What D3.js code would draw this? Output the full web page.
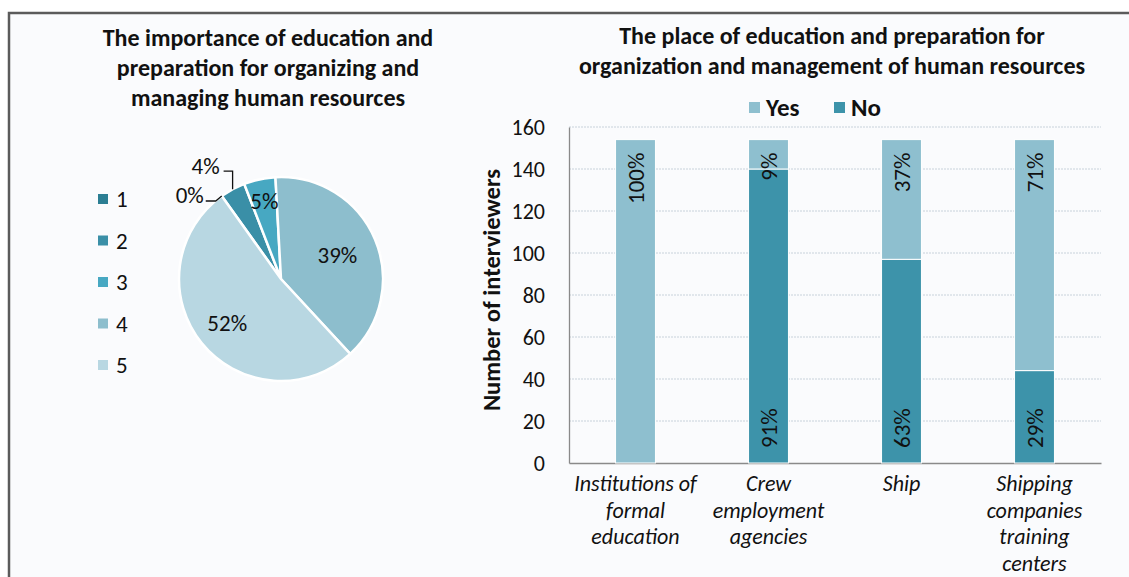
<!DOCTYPE html>
<html>
<head>
<meta charset="utf-8">
<script src="https://cdn.jsdelivr.net/npm/d3@7"></script>
<style>
  body { margin: 0; background: #fff; }
  svg { display: block; font-family: Carlito, Lato, "Open Sans", sans-serif; }
</style>
</head>
<body>
<svg id="chart"></svg>
<script>
// pie data
let pieLabels = ['1', '2', '3', '4', '5']
let pieValues = [0, 4, 5, 39, 52]
let pieColors = ['#2b7e93', '#3a8fa7', '#47a8c2', '#8dbecd', '#b8d7e2']

// bar data
let categories = [
  ['Institutions of', 'formal', 'education'],
  ['Crew', 'employment', 'agencies'],
  ['Ship'],
  ['Shipping', 'companies', 'training', 'centers']
]
let noValues = [0, 140, 97, 44]
let yesValues = [154, 14, 57, 110]
let noPct = ['', '91%', '63%', '29%']
let yesPct = ['100%', '9%', '37%', '71%']
let yTicks = [0, 20, 40, 60, 80, 100, 120, 140, 160]

let width = 1129
let height = 577

let svg = d3.select('#chart')
            .attr('width', width)
            .attr('height', height)

// frame
svg.append('rect')
   .attr('x', 9).attr('y', 13)
   .attr('width', width + 10).attr('height', height + 10)
   .attr('fill', '#fafbfd')
   .attr('stroke', '#5b5b5b')
   .attr('stroke-width', 2.5)

// ---------- pie ----------
let titleLeft = ['The importance of education and', 'preparation for organizing and', 'managing human resources']
svg.append('g').selectAll('text')
   .data(titleLeft)
   .enter()
   .append('text')
   .attr('x', 268)
   .attr('y', (d, i) => 46 + i * 30)
   .attr('text-anchor', 'middle')
   .attr('font-size', 24)
   .attr('font-weight', 'bold')
   .attr('fill', '#111')
   .text(d => d)

let cx = 281, cy = 279, r = 102
let startA = -0.62
let pie = d3.pie().sort(null).startAngle(startA).endAngle(startA + 2 * Math.PI)
let arcs = pie(pieValues)
let arc = d3.arc().innerRadius(0).outerRadius(r)

let pieG = svg.append('g').attr('transform', 'translate(' + cx + ',' + cy + ')')

pieG.selectAll('path')
    .data(arcs)
    .enter()
    .append('path')
    .attr('d', arc)
    .attr('fill', (d, i) => pieColors[i])
    .attr('stroke', '#fff')
    .attr('stroke-width', 2.5)

let labelR = [0, 0, 0.78, 0.6, 0.68]
arcs.forEach((d, i) => {
  if (labelR[i] == 0) return
  let a = (d.startAngle + d.endAngle) / 2
  pieG.append('text')
      .attr('x', Math.sin(a) * r * labelR[i])
      .attr('y', -Math.cos(a) * r * labelR[i])
      .attr('dy', '0.35em')
      .attr('text-anchor', 'middle')
      .attr('font-size', 23)
      .attr('fill', '#111')
      .text(pieValues[i] + '%')
})

// leader lines for the small slices
let edge = (a) => [Math.sin(a) * r, -Math.cos(a) * r]
let p2 = edge((arcs[1].startAngle + arcs[1].endAngle) / 2)
pieG.append('path')
    .attr('d', 'M' + p2[0] + ',' + p2[1] + 'V' + (p2[1] - 18) + 'H' + (p2[0] - 9))
    .attr('fill', 'none').attr('stroke', '#111').attr('stroke-width', 1.3)
pieG.append('text')
    .attr('x', p2[0] - 13).attr('y', p2[1] - 18).attr('dy', '0.1em')
    .attr('text-anchor', 'end').attr('font-size', 23).attr('fill', '#111')
    .text(pieValues[1] + '%')

let p1 = edge(arcs[0].startAngle)
pieG.append('path')
    .attr('d', 'M' + p1[0] + ',' + p1[1] + 'L' + (p1[0] - 6) + ',' + (p1[1] + 5) + 'H' + (p1[0] - 16))
    .attr('fill', 'none').attr('stroke', '#111').attr('stroke-width', 1.3)
pieG.append('text')
    .attr('x', p1[0] - 18).attr('y', p1[1] + 5).attr('dy', '0.1em')
    .attr('text-anchor', 'end').attr('font-size', 23).attr('fill', '#111')
    .text(pieValues[0] + '%')

// pie legend
let leg = svg.append('g')
leg.selectAll('rect')
   .data(pieLabels)
   .enter()
   .append('rect')
   .attr('x', 98)
   .attr('y', (d, i) => 194 + i * 41.5)
   .attr('width', 10).attr('height', 10)
   .attr('fill', (d, i) => pieColors[i])
leg.selectAll('text')
   .data(pieLabels)
   .enter()
   .append('text')
   .attr('x', 116)
   .attr('y', (d, i) => 199 + i * 41.5)
   .attr('dy', '0.35em')
   .attr('font-size', 23)
   .attr('fill', '#111')
   .text(d => d)

// ---------- stacked bars ----------
let titleRight = ['The place of education and preparation for', 'organization and management of human resources']
svg.append('g').selectAll('text')
   .data(titleRight)
   .enter()
   .append('text')
   .attr('x', 832)
   .attr('y', (d, i) => 44 + i * 30)
   .attr('text-anchor', 'middle')
   .attr('font-size', 24)
   .attr('font-weight', 'bold')
   .attr('fill', '#111')
   .text(d => d)

let xScale = d3.scaleBand()
               .domain(d3.range(categories.length))
               .range([569, 1101])
               .paddingInner(0.7)
               .paddingOuter(0.35)

let yScale = d3.scaleLinear()
               .domain([0, 160])
               .range([463, 127])

// grid
svg.append('g')
   .selectAll('line')
   .data(yTicks.slice(1))
   .enter()
   .append('line')
   .attr('x1', 569).attr('x2', 1101)
   .attr('y1', d => yScale(d)).attr('y2', d => yScale(d))
   .attr('stroke', '#c8d2db')
   .attr('stroke-width', 1)
   .attr('stroke-dasharray', '2,1')

let yAxis = d3.axisLeft(yScale).tickValues(yTicks).tickSize(0).tickPadding(24)
let yG = svg.append('g')
            .attr('transform', 'translate(569,0)')
            .call(yAxis)
yG.select('.domain').attr('stroke', '#8a8a8a').attr('stroke-width', 1.3)
yG.selectAll('text').attr('font-size', 22).attr('fill', '#111').attr('font-family', 'Carlito, Lato, sans-serif')

let xG = svg.append('g')
            .attr('transform', 'translate(0,463)')
            .call(d3.axisBottom(xScale).tickSize(0).tickFormat(''))
xG.select('.domain').attr('stroke', '#8a8a8a').attr('stroke-width', 1.3)

// bars
let stackData = categories.map((c, i) => ({ i: i, No: noValues[i], Yes: yesValues[i] }))
let series = d3.stack().keys(['No', 'Yes'])(stackData)
let barColors = { No: '#3d93aa', Yes: '#8ebfcf' }

svg.append('g')
   .selectAll('g')
   .data(series)
   .enter()
   .append('g')
   .attr('fill', d => barColors[d.key])
   .selectAll('rect')
   .data(d => d)
   .enter()
   .append('rect')
   .attr('x', d => xScale(d.data.i))
   .attr('y', d => yScale(d[1]))
   .attr('width', xScale.bandwidth())
   .attr('height', d => yScale(d[0]) - yScale(d[1]))
   .attr('stroke', '#fff')
   .attr('stroke-width', 1)

// bar labels
let barLabels = svg.append('g')
stackData.forEach((d, i) => {
  let xc = xScale(i) + xScale.bandwidth() / 2
  let yTop = yScale(d.No + d.Yes) + 13
  barLabels.append('text')
           .attr('transform', 'translate(' + (xc + 8) + ',' + yTop + ') rotate(-90)')
           .attr('text-anchor', 'end')
           .attr('font-size', 23)
           .attr('fill', '#111')
           .text(yesPct[i])
  if (noPct[i] != '') {
    barLabels.append('text')
             .attr('transform', 'translate(' + (xc + 8) + ',' + (yScale(0) - 15) + ') rotate(-90)')
             .attr('text-anchor', 'start')
             .attr('font-size', 23)
             .attr('fill', '#111')
             .text(noPct[i])
  }
})

// category labels
categories.forEach((lines, i) => {
  let xc = xScale(i) + xScale.bandwidth() / 2
  svg.append('g').selectAll('text')
     .data(lines)
     .enter()
     .append('text')
     .attr('x', xc)
     .attr('y', (d, j) => 491 + j * 26.5)
     .attr('text-anchor', 'middle')
     .attr('font-size', 22)
     .attr('font-style', 'italic')
     .attr('fill', '#111')
     .text(d => d)
})

// y title
svg.append('text')
   .attr('transform', 'translate(500,290) rotate(-90)')
   .attr('text-anchor', 'middle')
   .attr('font-size', 24.5)
   .attr('font-weight', 'bold')
   .attr('fill', '#111')
   .text('Number of interviewers')

// bar legend
let legKeys = ['Yes', 'No']
let legX = [749, 834]
legKeys.forEach((k, i) => {
  svg.append('rect')
     .attr('x', legX[i]).attr('y', 102)
     .attr('width', 11).attr('height', 11)
     .attr('fill', barColors[k])
  svg.append('text')
     .attr('x', legX[i] + 17).attr('y', 107)
     .attr('dy', '0.35em')
     .attr('font-size', 25)
     .attr('font-weight', 'bold')
     .attr('fill', '#111')
     .text(k)
})
</script>
</body>
</html>
